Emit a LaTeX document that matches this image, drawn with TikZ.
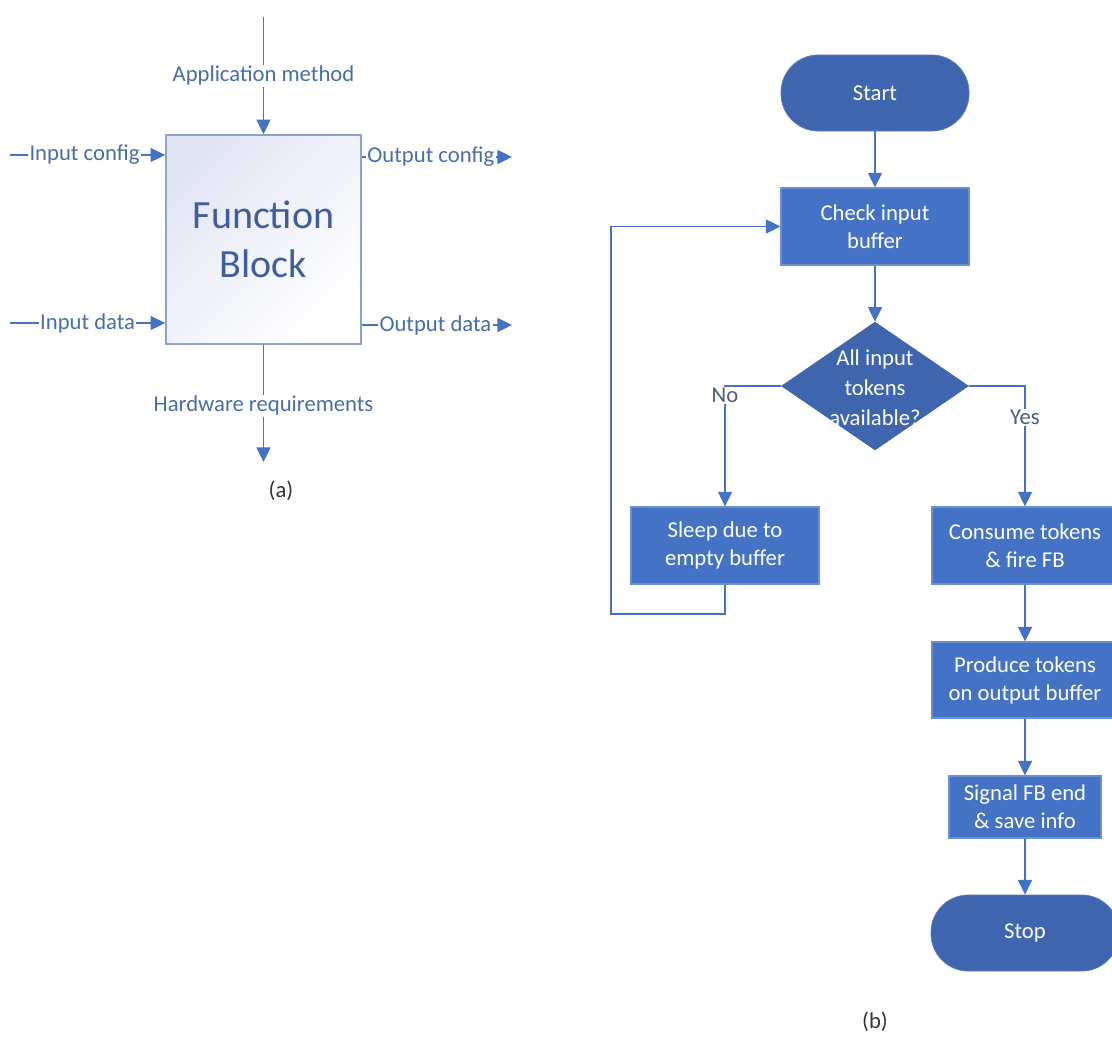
\documentclass[tikz,border=0pt]{standalone}
\usepackage{fontspec}
\setmainfont{Carlito}
\usetikzlibrary{arrows.meta,shapes.geometric}

\definecolor{lineblue}{HTML}{4472C4}
\definecolor{boxblue}{HTML}{4472C4}
\definecolor{boxedge}{HTML}{6A8FD2}
\definecolor{termblue}{HTML}{3F65AE}
\definecolor{fbedge}{HTML}{8FA2C8}
\definecolor{fbtop}{HTML}{E2E6F4}
\definecolor{fbtext}{HTML}{3F5D9C}
\definecolor{lbltext}{HTML}{4A6DAA}
\definecolor{branchtext}{HTML}{4E5D7A}

\tikzset{
  conn/.style={draw=lineblue, line width=1.1pt, -{Triangle[length=11pt,width=10.5pt]}},
  lbl/.style={fill=white, inner sep=1pt, text=lbltext, font=\fontsize{17pt}{20pt}\selectfont},
  branch/.style={fill=white, inner sep=1pt, text=branchtext, font=\fontsize{17pt}{20pt}\selectfont},
  fbbox/.style={rectangle, draw=fbedge, line width=1.2pt, shading=axis, top color=fbtop,
    bottom color=white, shading angle=45, minimum width=146.25pt, minimum height=156.75pt,
    align=center, text=fbtext, font=\fontsize{30pt}{37pt}\selectfont},
  procbox/.style={rectangle, fill=boxblue, draw=boxedge, line width=0.8pt, text=white,
    align=center, inner sep=0pt, font=\fontsize{17pt}{21pt}\selectfont},
  terminal/.style={rectangle, rounded corners=28pt, fill=termblue, draw=termblue!85!white,
    line width=0.6pt, text=white, minimum width=141pt, minimum height=57pt,
    font=\fontsize{17pt}{21pt}\selectfont},
  decision/.style={diamond, fill=termblue, draw=termblue, inner sep=0pt,
    minimum width=140.25pt, minimum height=96pt},
  caption/.style={text=black!80, font=\fontsize{17pt}{20pt}\selectfont},
}

\begin{document}
\begin{tikzpicture}[x=0.75pt, y=-0.75pt]
\useasboundingbox (0,0) rectangle (1112,1039);
\clip (0,0) rectangle (1112,1039);

% ---------- (a) function block with its inputs and outputs ----------
\node[fbbox] (fb) at (263.5,239.5) {Function\\Block};

\coordinate (amtop) at (263.5,17);
\coordinate (icin)  at (10,155);
\coordinate (idin)  at (10,323);
\coordinate (ocout) at (512,157);
\coordinate (odout) at (512,325);
\coordinate (hwout) at (263.5,462);

\draw[conn] (amtop) -- node[lbl, pos=0.5] {Application method} (fb.north);
\draw[conn] (icin) -- node[lbl, pos=0.48] {Input config} (icin -| fb.west);
\draw[conn] (idin) -- node[lbl, pos=0.5] {Input data} (idin -| fb.west);
\draw[conn] (ocout -| fb.east) -- node[lbl, pos=0.46] {Output config} (ocout);
\draw[conn] (odout -| fb.east) -- node[lbl, pos=0.49] {Output data} (odout);
\draw[conn] (fb.south) -- node[lbl, pos=0.52] {Hardware requirements} (hwout);

\node[caption] (capa) at (281,491) {(a)};

% ---------- (b) firing flowchart of a function block ----------
\node[terminal] (start) at (875,93) {Start};
\node[procbox, minimum width=141pt, minimum height=57.75pt] (check) at (875,226.5)
  {Check input\\buffer};
\node[decision] (dec) at (875,386) {};
\node[text=white, align=center, inner sep=0pt,
  font=\fontsize{17pt}{22.5pt}\selectfont] (dectext) at (875,388)
  {All input\\tokens\\available?};

\node[procbox, minimum width=141pt, minimum height=57.75pt] (sleep) at (725,545.5)
  {Sleep due to\\empty buffer};
\node[procbox, minimum width=139.5pt, minimum height=57.75pt] (consume) at (1025,545.5)
  {Consume tokens\\\& fire FB};
\node[procbox, minimum width=139.5pt, minimum height=57pt] (produce) at (1025,680)
  {Produce tokens\\on output buffer};
\node[procbox, minimum width=114pt, minimum height=46.5pt] (signal) at (1025,807)
  {Signal FB end\\\& save info};
\node[terminal] (stop) at (1025,933) {Stop};

\draw[conn] (start) -- (check);
\draw[conn] (check) -- (dec);
\draw[conn] (dec.west) -| node[branch, pos=0.54] {No} (sleep.north);
\draw[conn] (dec.east) -| node[branch, pos=0.63] {Yes} (consume.north);

\coordinate (loopcorner) at (611,614);
\draw[conn] (sleep.south) |- (loopcorner) |- (check.west);

\draw[conn] (consume) -- (produce);
\draw[conn] (produce) -- (signal);
\draw[conn] (signal) -- (stop);

\node[caption] (capb) at (875,1022) {(b)};
\end{tikzpicture}
\end{document}
